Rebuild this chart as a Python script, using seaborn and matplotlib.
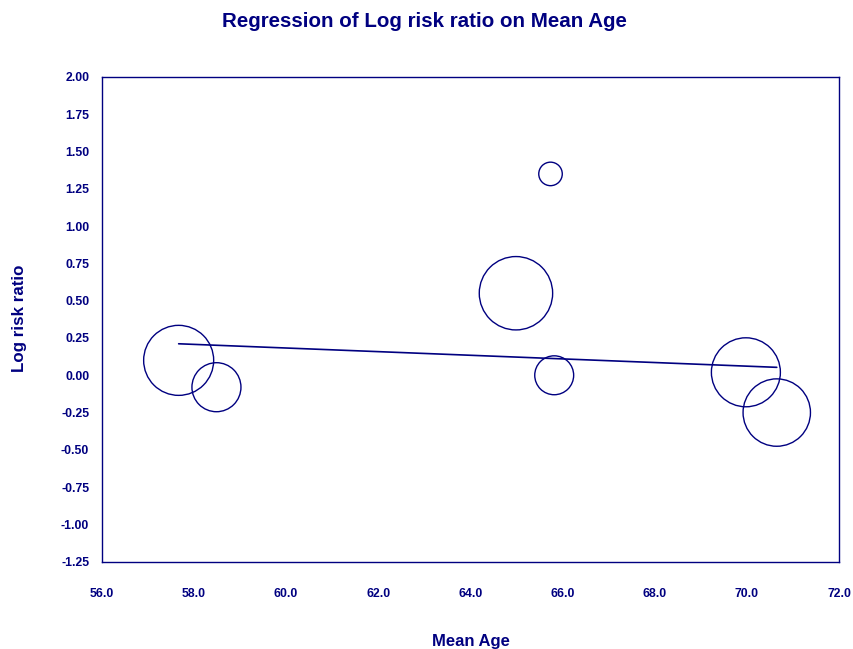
import numpy as np
import pandas as pd
import matplotlib
matplotlib.use("Agg")
import matplotlib.pyplot as plt
import seaborn as sns

# Study-level data for the meta-regression
mean_age = [57.67, 58.49, 65.74, 64.99, 65.82, 69.98, 70.65]
log_rr = [0.10, -0.08, 1.35, 0.55, 0.00, 0.02, -0.25]
weight_pct = [20.4, 10.0, 2.3, 22.4, 6.3, 19.8, 18.9]

# Fitted regression: log RR = intercept + slope * mean age
intercept = 0.913
slope = -0.01217

x_ticks = [56.0, 58.0, 60.0, 62.0, 64.0, 66.0, 68.0, 70.0, 72.0]
y_ticks = [-1.25, -1.00, -0.75, -0.50, -0.25, 0.00, 0.25, 0.50, 0.75,
           1.00, 1.25, 1.50, 1.75, 2.00]

navy = "#000080"

sns.set_theme(style="white")
plt.rcParams["font.family"] = ["Liberation Sans", "DejaVu Sans"]

df = pd.DataFrame({"age": mean_age, "lrr": log_rr, "w": weight_pct})

fig = plt.figure(figsize=(8.54, 6.49), dpi=100)
ax = fig.add_axes([0.1191, 0.1345, 0.8633, 0.7469])

# bubble area proportional to study weight
k = 124.6
wmin, wmax = min(weight_pct), max(weight_pct)
sns.scatterplot(data=df, x="age", y="lrr", size="w",
                sizes=(k * wmin, k * wmax), size_norm=(wmin, wmax),
                facecolor="none", edgecolor=navy, linewidth=1.0,
                legend=False, ax=ax, zorder=3)

xs = np.array([min(mean_age), max(mean_age)])
line_df = pd.DataFrame({"age": xs, "fit": intercept + slope * xs})
sns.lineplot(data=line_df, x="age", y="fit", color=navy, linewidth=1.2,
             ax=ax, zorder=4)

ax.set_xlim(56, 72)
ax.set_ylim(-1.25, 2.0)
ax.set_xticks(x_ticks)
ax.set_yticks(y_ticks)
ax.set_xticklabels([f"{v:.1f}" for v in x_ticks])
ax.set_yticklabels([f"{v:.2f}" for v in y_ticks])
ax.tick_params(axis="both", colors=navy, labelcolor=navy, direction="out",
               length=5, width=1.0, labelsize=8.8)
ax.tick_params(axis="x", pad=15, length=4)
ax.tick_params(axis="y", pad=4)
for lab in ax.get_xticklabels() + ax.get_yticklabels():
    lab.set_fontweight("bold")
for sp in ax.spines.values():
    sp.set_color(navy)
    sp.set_linewidth(1.0)
ax.set_xlabel("")
ax.set_ylabel("")
ax.grid(False)

fig.text(0.4973, 0.967, "Regression of Log risk ratio on Mean Age",
         ha="center", va="center", fontsize=14.8, fontweight="bold", color=navy)
fig.text(0.5515, 0.012, "Mean Age", ha="center", va="center",
         fontsize=12, fontweight="bold", color=navy)
fig.text(0.0234, 0.510, "Log risk ratio", ha="center", va="center",
         rotation=90, fontsize=12.2, fontweight="bold", color=navy)

fig.savefig("out.png", dpi=100, facecolor="white")
